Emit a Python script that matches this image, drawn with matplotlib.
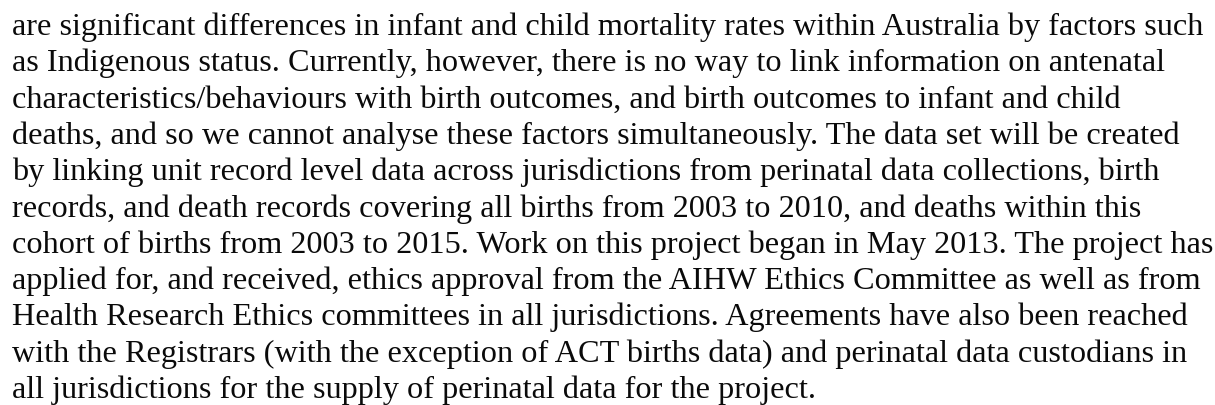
import matplotlib.pyplot as plt

# paragraph text, one entry per printed line
lines = [
    "are significant differences in infant and child mortality rates within Australia by factors such",
    "as Indigenous status. Currently, however, there is no way to link information on antenatal",
    "characteristics/behaviours with birth outcomes, and birth outcomes to infant and child",
    "deaths, and so we cannot analyse these factors simultaneously. The data set will be created",
    "by linking unit record level data across jurisdictions from perinatal data collections, birth",
    "records, and death records covering all births from 2003 to 2010, and deaths within this",
    "cohort of births from 2003 to 2015. Work on this project began in May 2013. The project has",
    "applied for, and received, ethics approval from the AIHW Ethics Committee as well as from",
    "Health Research Ethics committees in all jurisdictions. Agreements have also been reached",
    "with the Registrars (with the exception of ACT births data) and perinatal data custodians in",
    "all jurisdictions for the supply of perinatal data for the project.",
]

fig = plt.figure(figsize=(12.15, 4.05), dpi=100)
fig.patch.set_facecolor('white')

top = 35.0      # baseline of first line, px from top
step = 36.3     # line spacing, px
for i, s in enumerate(lines):
    y = 1 - (top + i * step) / 405.0
    fig.text(12 / 1215.0, y, s, fontsize=23.2, family='Liberation Serif',
             color='#0a0a0a', va='baseline', ha='left')

fig.savefig('out.png', dpi=100)
